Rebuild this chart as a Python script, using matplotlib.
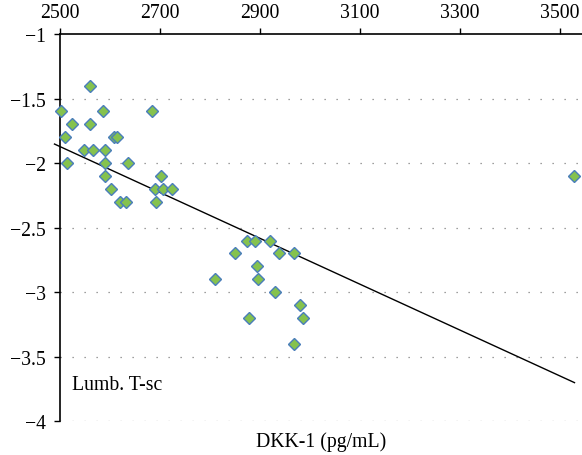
import matplotlib
matplotlib.use("Agg")
import matplotlib.pyplot as plt
import numpy as np

# DKK-1 vs lumbar T-score
dkk = [2502, 2510, 2513, 2524, 2548, 2559, 2559, 2565, 2585, 2589, 2589, 2589,
       2602, 2607, 2613, 2619, 2632, 2635, 2683, 2689, 2692, 2702, 2705, 2723,
       2809, 2849, 2873, 2878, 2890, 2893, 2896, 2919, 2929, 2938, 2968, 2968,
       2979, 2985, 3527]
tsc = [-1.6, -1.8, -2.0, -1.7, -1.9, -1.4, -1.7, -1.9, -1.6, -1.9, -2.0, -2.1,
       -2.2, -1.8, -1.8, -2.3, -2.3, -2.0, -1.6, -2.2, -2.3, -2.1, -2.2, -2.2,
       -2.9, -2.7, -2.6, -3.2, -2.6, -2.8, -2.9, -2.6, -3.0, -2.7, -2.7, -3.4,
       -3.1, -3.2, -2.1]

# trendline: y = trend_b + trend_m * (x - 2500)
trend_m = -0.001777
trend_b = -1.872
trend_span = [2489, 3529]

xticks = [2500, 2700, 2900, 3100, 3300, 3500]
yticks = [-1, -1.5, -2, -2.5, -3, -3.5, -4]

plt.rcParams['font.family'] = ['Liberation Serif', 'DejaVu Serif']
fs = 14.2

fig = plt.figure(figsize=(5.82, 4.56), dpi=100)
ax = fig.add_axes([60 / 582, 1 - 422.3 / 456, 522 / 582, 387.3 / 456])

# dotted gridlines
for yv in yticks[1:]:
    ax.axhline(yv, color='#808080', lw=0.9, linestyle=(0, (1.0, 8.6)), zorder=0)

tx = np.array(trend_span, dtype=float)
ax.plot(tx, trend_b + trend_m * (tx - 2500), color='black', lw=1.0, clip_on=False, zorder=2)

ax.plot(dkk, tsc, linestyle='none', marker='D', markersize=6.2,
        markerfacecolor='#85C24E', markeredgecolor='#4A7EBB', markeredgewidth=1.0,
        zorder=3, clip_on=False)

ax.set_xlim(2500, 3544)
ax.set_ylim(-4, -1)
ax.xaxis.tick_top()
ax.set_xticks(xticks)
ax.set_yticks(yticks)
ax.set_yticklabels(['\u22121', '\u22121.5', '\u22122', '\u22122.5', '\u22123', '\u22123.5', '\u22124'])
ax.tick_params(axis='both', labelsize=fs, length=4, width=1, direction='out', color='black')
ax.tick_params(axis='x', pad=5)
ax.tick_params(axis='y', pad=6)

for s in ['bottom', 'right']:
    ax.spines[s].set_visible(False)
for s in ['top', 'left']:
    ax.spines[s].set_linewidth(1.2)

ax.text(0.023, 0.0945, 'Lumb. T-sc', transform=ax.transAxes, fontsize=fs,
        ha='left', va='center')
ax.text(0.5, -0.05, 'DKK-1 (pg/mL)', transform=ax.transAxes, fontsize=fs,
        ha='center', va='center')

fig.savefig('out.png', dpi=100)
